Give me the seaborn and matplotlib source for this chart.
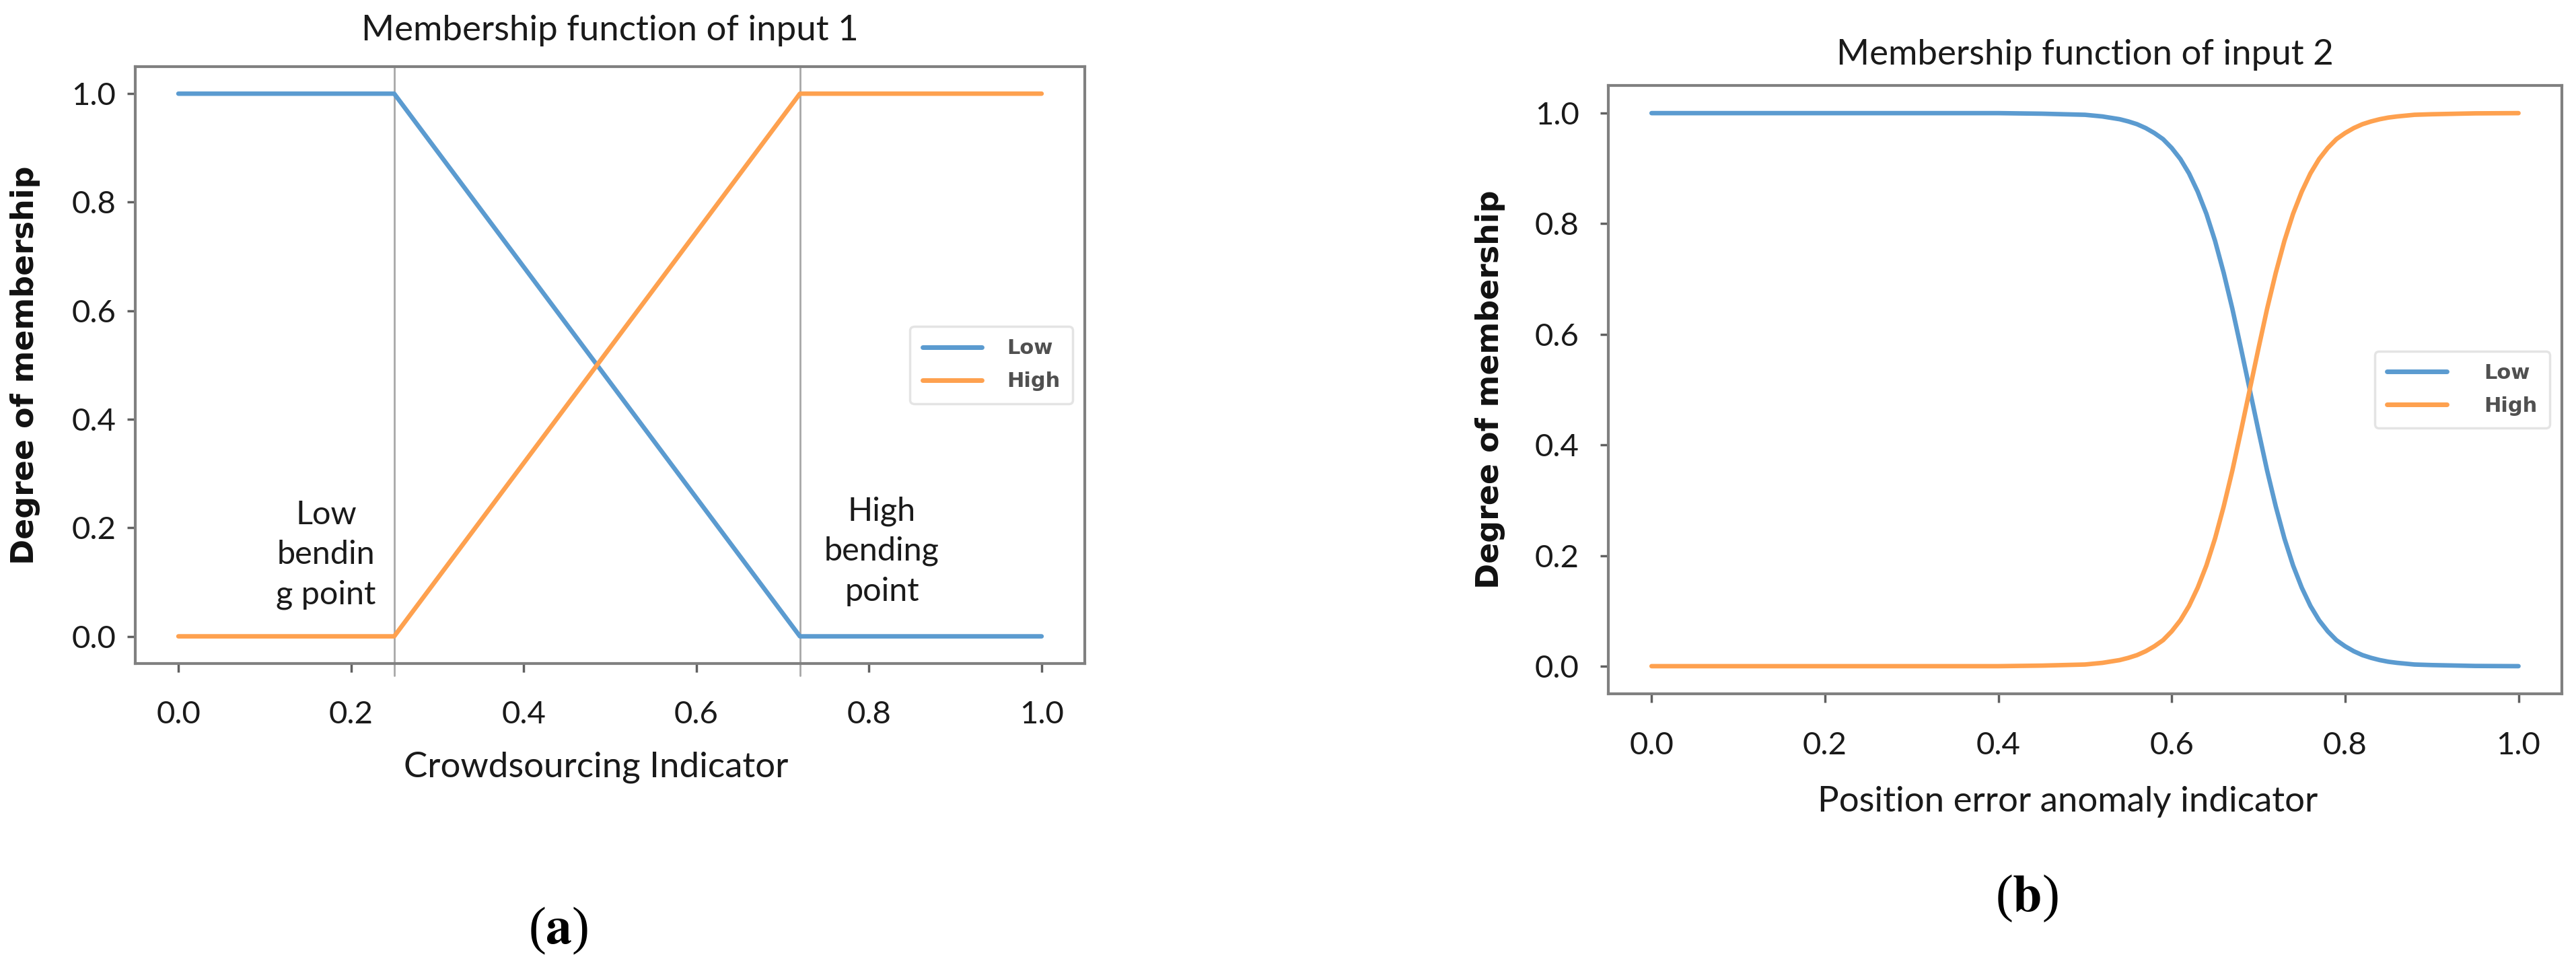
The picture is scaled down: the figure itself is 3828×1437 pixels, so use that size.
import pandas as pd
import seaborn as sns
import matplotlib.pyplot as plt

# panel (a): straight-line membership, bending points
a_x = [0.0, 0.25, 0.72, 1.0]
a_low = [1.0, 1.0, 0.0, 0.0]
a_high = [0.0, 0.0, 1.0, 1.0]
bend_points = [0.25, 0.72]

# panel (b): s-shaped membership
b_x = [0.0, 0.1, 0.2, 0.3, 0.4, 0.45, 0.5, 0.52, 0.54, 0.55, 0.56, 0.57, 0.58,
       0.59, 0.6, 0.61, 0.62, 0.63, 0.64, 0.65, 0.66, 0.67, 0.68, 0.69, 0.70,
       0.71, 0.72, 0.73, 0.74, 0.75, 0.76, 0.77, 0.78, 0.79, 0.80, 0.81, 0.82,
       0.83, 0.84, 0.85, 0.86, 0.88, 0.9, 0.95, 1.0]
b_high = [0.0, 0.0, 0.0, 0.0, 0.0, 0.001, 0.003, 0.006, 0.011, 0.015, 0.020, 0.027,
          0.036, 0.047, 0.063, 0.083, 0.109, 0.142, 0.182, 0.231, 0.289, 0.354,
          0.426, 0.5, 0.574, 0.646, 0.711, 0.769, 0.818, 0.858, 0.891, 0.917,
          0.937, 0.953, 0.964, 0.973, 0.980, 0.985, 0.989, 0.992, 0.994, 0.997,
          0.998, 0.9996, 1.0]
b_low = [1.0, 1.0, 1.0, 1.0, 1.0, 0.999, 0.997, 0.994, 0.989, 0.985, 0.980, 0.973,
         0.964, 0.953, 0.937, 0.917, 0.891, 0.858, 0.818, 0.769, 0.711, 0.646,
         0.574, 0.5, 0.426, 0.354, 0.289, 0.231, 0.182, 0.142, 0.109, 0.083,
         0.063, 0.047, 0.036, 0.027, 0.020, 0.015, 0.011, 0.008, 0.006, 0.003,
         0.002, 0.0004, 0.0]

ticks = [0.0, 0.2, 0.4, 0.6, 0.8, 1.0]
tick_labels = ['0.0', '0.2', '0.4', '0.6', '0.8', '1.0']

BLUE = '#5b9bd0'
ORANGE = '#fea14f'

sns.set_theme(style='white')
plt.rcParams['font.family'] = ['Lato', 'DejaVu Sans']
plt.rcParams['mathtext.fontset'] = 'stix'


def style_axes(ax, title, title_y, xlabel, xlabel_pos, ylabel_x, ytick_pad, textpad):
    ax.set_xlim(-0.05, 1.05)
    ax.set_ylim(-0.05, 1.05)
    ax.set_xticks(ticks)
    ax.set_yticks(ticks)
    ax.set_xticklabels(tick_labels)
    ax.set_yticklabels(tick_labels)
    for s in ax.spines.values():
        s.set_visible(True)
        s.set_color('#808080')
        s.set_linewidth(3)
    ax.tick_params(axis='both', direction='out', length=9, width=2.5, color='#606060',
                   labelsize=34, labelcolor='#1a1a1a', bottom=True, left=True)
    ax.tick_params(axis='x', pad=31)
    ax.tick_params(axis='y', pad=ytick_pad)
    ax.text(0.5, title_y, title, transform=ax.transAxes, ha='center', va='baseline',
            fontsize=38, color='#1a1a1a')
    ax.set_xlabel(xlabel, fontsize=38, color='#1a1a1a')
    ax.xaxis.set_label_coords(*xlabel_pos)
    ax.xaxis.label.set_va('center')
    ax.set_ylabel('Degree of membership', family='DejaVu Sans', fontweight='bold',
                  fontsize=33, color='#111111')
    ax.yaxis.set_label_coords(ylabel_x, 0.5)
    ax.yaxis.label.set_va('center')
    leg = ax.legend(loc='center right', borderaxespad=0.6, handlelength=2.9,
                    handletextpad=textpad, labelspacing=0.65, borderpad=0.6,
                    frameon=True,
                    prop={'family': 'DejaVu Sans', 'size': 22, 'weight': 'bold'})
    leg.get_frame().set_edgecolor('#dedede')
    leg.get_frame().set_linewidth(2.5)
    for t in leg.get_texts():
        t.set_color('#505050')
    for h in leg.get_lines():
        h.set_linewidth(5)


fig = plt.figure(figsize=(38.28, 14.37), dpi=100)
ax1 = fig.add_axes([0.0525, 0.3139, 0.3686, 0.6173])
ax2 = fig.add_axes([0.6243, 0.2825, 0.3702, 0.6291])

# (a)
for xb in bend_points:
    ax1.axvline(xb, ymin=-0.02, ymax=1, color='#a8a8a8', lw=2, clip_on=False, zorder=1)
sns.lineplot(x=a_x, y=a_low, ax=ax1, color=BLUE, lw=4.8, label='Low', estimator=None)
sns.lineplot(x=a_x, y=a_high, ax=ax1, color=ORANGE, lw=4.8, label='High', estimator=None)
ax1.text(0.171, 0.15, 'Low\nbendin\ng point', ha='center', va='center', fontsize=35,
         linespacing=1.42, color='#1a1a1a')
ax1.text(0.815, 0.157, 'High\nbending\npoint', ha='center', va='center', fontsize=35,
         linespacing=1.42, color='#1a1a1a')
style_axes(ax1, 'Membership function of input 1', 1.044, 'Crowdsourcing Indicator',
           (0.485, -0.1736), -0.1155, 11.5, 1.2)

# (b)
sns.lineplot(x=b_x, y=b_low, ax=ax2, color=BLUE, lw=4.8, label='Low', estimator=None)
sns.lineplot(x=b_x, y=b_high, ax=ax2, color=ORANGE, lw=4.8, label='High', estimator=None)
style_axes(ax2, 'Membership function of input 2', 1.034, 'Position error anomaly indicator',
           (0.482, -0.177), -0.124, 22, 1.8)

fig.text(830 / 3828, 1 - 1383 / 1437, r'($\mathbf{a}$)', family='Liberation Serif',
         fontsize=56, ha='center', va='center', color='black')
fig.text(3012 / 3828, 1 - 1335 / 1437, r'($\mathbf{b}$)', family='Liberation Serif',
         fontsize=56, ha='center', va='center', color='black')

fig.savefig('out.png', dpi=100, facecolor='white')
